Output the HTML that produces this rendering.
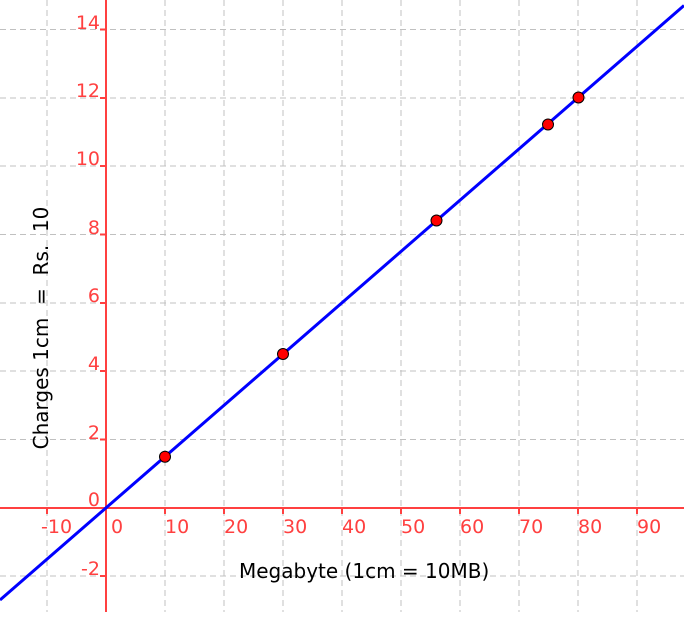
<!DOCTYPE html>
<html><head><style>body{margin:0;background:#fff}</style></head><body>
<svg width="684" height="612" xmlns="http://www.w3.org/2000/svg" font-family="DejaVu Sans, Liberation Sans, sans-serif">
<g stroke="#c0c0c0" stroke-dasharray="6,4" stroke-width="1">
<line x1="47" y1="0" x2="47" y2="612"/><line x1="165" y1="0" x2="165" y2="612"/><line x1="224" y1="0" x2="224" y2="612"/><line x1="283" y1="0" x2="283" y2="612"/><line x1="342" y1="0" x2="342" y2="612"/><line x1="401" y1="0" x2="401" y2="612"/><line x1="460" y1="0" x2="460" y2="612"/><line x1="519" y1="0" x2="519" y2="612"/><line x1="578" y1="0" x2="578" y2="612"/><line x1="637" y1="0" x2="637" y2="612"/>
<line x1="0" y1="29.5" x2="684" y2="29.5"/><line x1="0" y1="98" x2="684" y2="98"/><line x1="0" y1="166" x2="684" y2="166"/><line x1="0" y1="234.5" x2="684" y2="234.5"/><line x1="0" y1="303" x2="684" y2="303"/><line x1="0" y1="371" x2="684" y2="371"/><line x1="0" y1="439.5" x2="684" y2="439.5"/><line x1="0" y1="576" x2="684" y2="576"/>
</g>
<g stroke="#ff4040" stroke-width="2">
<line x1="0" y1="508" x2="684" y2="508"/><line x1="106" y1="0" x2="106" y2="612"/>
<line x1="47" y1="508" x2="47" y2="514"/><line x1="165" y1="508" x2="165" y2="514"/><line x1="224" y1="508" x2="224" y2="514"/><line x1="283" y1="508" x2="283" y2="514"/><line x1="342" y1="508" x2="342" y2="514"/><line x1="401" y1="508" x2="401" y2="514"/><line x1="460" y1="508" x2="460" y2="514"/><line x1="519" y1="508" x2="519" y2="514"/><line x1="578" y1="508" x2="578" y2="514"/><line x1="637" y1="508" x2="637" y2="514"/>
<line x1="100" y1="29.5" x2="106" y2="29.5"/><line x1="100" y1="98" x2="106" y2="98"/><line x1="100" y1="166" x2="106" y2="166"/><line x1="100" y1="234.5" x2="106" y2="234.5"/><line x1="100" y1="303" x2="106" y2="303"/><line x1="100" y1="371" x2="106" y2="371"/><line x1="100" y1="439.5" x2="106" y2="439.5"/><line x1="100" y1="576" x2="106" y2="576"/>
</g>
<g fill="#ff4040" font-size="19">
<text x="41" y="533">-10</text><text x="111" y="533">0</text><text x="165" y="533">10</text><text x="224" y="533">20</text><text x="283" y="533">30</text><text x="342" y="533">40</text><text x="401" y="533">50</text><text x="460" y="533">60</text><text x="519" y="533">70</text><text x="578" y="533">80</text><text x="637" y="533">90</text>
<g text-anchor="end"><text x="100" y="29">14</text><text x="100" y="97">12</text><text x="100" y="165">10</text><text x="100" y="234">8</text><text x="100" y="302">6</text><text x="100" y="370">4</text><text x="100" y="439">2</text><text x="100" y="506">0</text><text x="100" y="575">-2</text></g>
</g>
<line x1="0" y1="600" x2="684" y2="5.5" stroke="#0000ff" stroke-width="3"/>
<g fill="#ff0000" stroke="#000" stroke-width="1">
<circle cx="165" cy="456.7" r="5.5"/><circle cx="283" cy="354" r="5.5"/><circle cx="436.5" cy="220.5" r="5.5"/><circle cx="548" cy="124.5" r="5.5"/><circle cx="578.5" cy="97.5" r="5.5"/>
</g>
<text x="239" y="578" font-size="20" fill="#000">Megabyte (1cm = 10MB)</text>
<text transform="translate(48,328) rotate(-90)" text-anchor="middle" font-size="20" fill="#000" xml:space="preserve">Charges 1cm  =  Rs.  10</text>
</svg>
</body></html>
